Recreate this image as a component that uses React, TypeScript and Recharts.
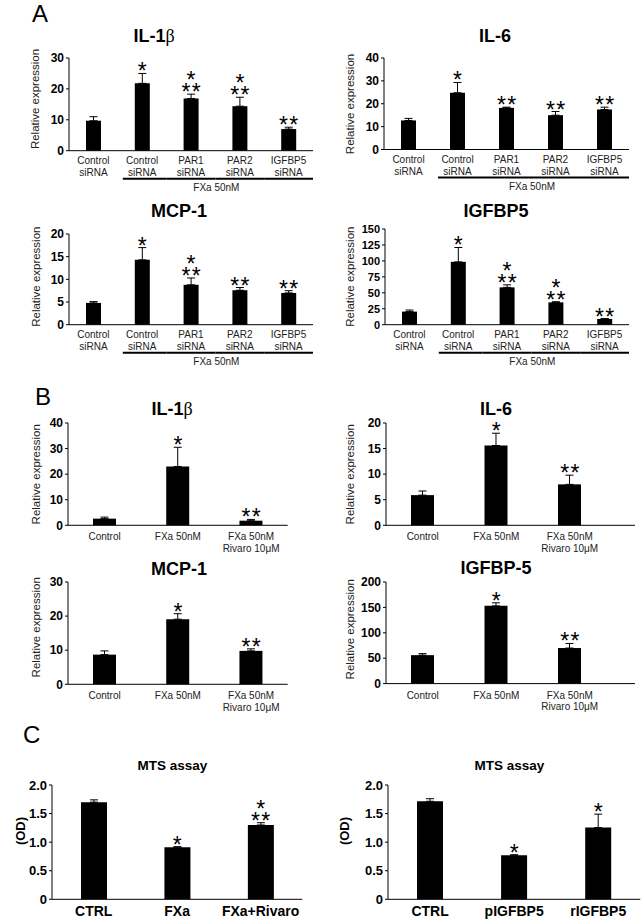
import React from "react";
import { ComposedChart, Bar, Line, XAxis, YAxis, ErrorBar, LabelList } from "recharts";

// ---------- DATA ----------
const catsA = ["Control\nsiRNA", "Control\nsiRNA", "PAR1\nsiRNA", "PAR2\nsiRNA", "IGFBP5\nsiRNA"];
const fxaLabel = "FXa 50nM";

const il1bA = [9.7, 21.8, 16.9, 14.4, 7.0];
const il1bAErr = [1.3, 3.2, 1.4, 2.9, 0.6];
const il1bAStars = ["", "*", "*|**", "*|**", "**"];
const il1bATicks = [0, 10, 20, 30];

const il6A = [12.7, 24.8, 18.2, 15.0, 17.5];
const il6AErr = [0.9, 4.5, 0.3, 1.6, 1.0];
const il6AStars = ["", "*", "**", "**", "**"];
const il6ATicks = [0, 10, 20, 30, 40];

const mcp1A = [4.8, 14.3, 8.8, 7.6, 7.0];
const mcp1AErr = [0.3, 2.7, 1.5, 0.6, 0.5];
const mcp1AStars = ["", "*", "*|**", "**", "**"];
const mcp1ATicks = [0, 5, 10, 15, 20];

const igfbp5A = [20.5, 98.5, 58.5, 35, 9];
const igfbp5AErr = [2.5, 22.5, 4, 1, 0.5];
const igfbp5AStars = ["", "*", "*|**", "*|**", "**"];
const igfbp5ATicks = [0, 25, 50, 75, 100, 125, 150];

const catsB = ["Control", "FXa 50nM", "FXa 50nM\nRivaro 10\u03bcM"];

const il1bB = [2.6, 23, 1.8];
const il1bBErr = [0.6, 7.5, 0.5];
const il1bBTicks = [0, 10, 20, 30, 40];

const il6B = [5.9, 15.6, 8.0];
const il6BErr = [0.8, 2.4, 1.8];
const il6BTicks = [0, 5, 10, 15, 20];

const mcp1B = [8.7, 19.1, 9.8];
const mcp1BErr = [1.1, 1.6, 0.6];
const mcp1BTicks = [0, 10, 20, 30];

const igfbp5B = [56, 153, 70];
const igfbp5BErr = [3, 6, 9];
const igfbp5BTicks = [0, 50, 100, 150, 200];

const starsB = ["", "*", "**"];

const catsC1 = ["CTRL", "FXa", "FXa+Rivaro"];
const mtsC1 = [1.7, 0.91, 1.3];
const mtsC1Err = [0.04, 0.01, 0.04];
const mtsC1Stars = ["", "*", "*|**"];

const catsC2 = ["CTRL", "pIGFBP5", "rIGFBP5"];
const mtsC2 = [1.715, 0.77, 1.255];
const mtsC2Err = [0.045, 0.01, 0.235];
const mtsC2Stars = ["", "*", "*"];

const mtsTicks = [0, 0.5, 1, 1.5, 2];

// ---------- LAYOUT ----------
const FONT = "'Liberation Sans', Arial, Helvetica, sans-serif";
const MT = 40;
const MB = 60;
const YW = 50;
const MR = 4;

type Spec = {
  axisX: number;
  plotTop: number;
  plotBottom: number;
  plotRight: number;
  padRight?: number;
  yMax: number;
  ticks: number[];
  tickFontSize: number;
  fmt?: (v: number) => string;
  cats: string[];
  values: number[];
  errors: number[];
  stars: string[];
  barSize: number;
  kind: "A" | "B" | "C";
  yLabel: string;
  yLabelX: number;
  yLabelY: number;
  yLabelSize: number;
  yLabelBold?: boolean;
};

const renderStars = (props: any) => {
  const { x, y, value } = props;
  if (!value) return null;
  const rows = String(value).split("|");
  const n = rows.length;
  const baseY = y + 6 - (n - 1) * 12;
  return (
    <text
      x={x + 0.8}
      y={baseY}
      textAnchor="middle"
      fontSize={23}
      letterSpacing={1.4}
      fill="#000"
      fontFamily={FONT}
    >
      {rows.map((r, i) => (
        <tspan key={i} x={x + 0.8} dy={i === 0 ? 0 : 12}>
          {r}
        </tspan>
      ))}
    </text>
  );
};

function makeTick(kind: "A" | "B" | "C", band: number) {
  return (props: any) => {
    const { x, y, payload, index } = props;
    const lines = String(payload.value).split("\n");
    if (kind === "C") {
      return (
        <text x={x} y={y + 16.5} textAnchor="middle" fontSize={14} fontWeight="bold" fill="#000" fontFamily={FONT}>
          {lines[0]}
        </text>
      );
    }
    if (kind === "B") {
      return (
        <g>
          {lines.map((l, i) => (
            <text key={i} x={x} y={y + 15 + i * 11.5} textAnchor="middle" fontSize={10} fill="#222" fontFamily={FONT}>
              {l}
            </text>
          ))}
        </g>
      );
    }
    return (
      <g>
        {lines.map((l, i) => (
          <text key={i} x={x} y={y + 13 + i * 12} textAnchor="middle" fontSize={10} fill="#222" fontFamily={FONT}>
            {l}
          </text>
        ))}
        {index >= 1 && (
          <line
            x1={index === 1 ? x - band / 2 + 5 : x - band / 2}
            x2={x + band / 2}
            y1={y + 28}
            y2={y + 28}
            stroke="#000"
            strokeWidth={2}
          />
        )}
        {index === 2 && (
          <text x={x + band / 2 + 1} y={y + 40} textAnchor="middle" fontSize={10} fill="#222" fontFamily={FONT}>
            {fxaLabel}
          </text>
        )}
      </g>
    );
  };
}

function Panel({ s }: { s: Spec }) {
  const plotH = s.plotBottom - s.plotTop;
  const plotW = s.plotRight - s.axisX;
  const width = YW + plotW + MR;
  const height = MT + plotH + MB;
  const left = s.axisX - YW;
  const top = s.plotTop - MT;
  const band = (plotW - (s.padRight || 0)) / s.cats.length;
  const data = s.cats.map((c, i) => ({
    cat: c,
    v: s.values[i],
    err: [0, s.errors[i]],
    top: s.values[i] + s.errors[i],
    stars: s.stars[i],
  }));
  const lx = s.yLabelX - left;
  const ly = s.yLabelY - top;
  return (
    <div style={{ position: "absolute", left, top, width, height, fontFamily: FONT }}>
      <ComposedChart width={width} height={height} data={data} margin={{ top: MT, right: MR, bottom: 0, left: 0 }}>
        <XAxis
          dataKey="cat"
          height={MB}
          axisLine={{ stroke: "#000", strokeWidth: 1 }}
          tickLine={false}
          tickSize={0}
          tickMargin={0}
          interval={0}
          padding={{ left: 0, right: s.padRight || 0 }}
          tick={makeTick(s.kind, band)}
        />
        <YAxis
          width={YW}
          domain={[0, s.yMax]}
          ticks={s.ticks}
          interval={0}
          tickSize={3}
          tickMargin={2}
          axisLine={{ stroke: "#000", strokeWidth: 1 }}
          tickLine={{ stroke: "#000", strokeWidth: 1 }}
          tickFormatter={s.fmt}
          tick={{ fontSize: s.tickFontSize, fontWeight: "bold", fill: "#000", fontFamily: FONT }}
          label={{
            content: () => (
              <text
                x={lx}
                y={ly}
                transform={`rotate(-90 ${lx} ${ly})`}
                textAnchor="middle"
                dominantBaseline="central"
                fontSize={s.yLabelSize}
                fontWeight={s.yLabelBold ? "bold" : "normal"}
                fill={s.yLabelBold ? "#000" : "#222"}
                fontFamily={FONT}
              >
                {s.yLabel}
              </text>
            ),
          }}
        />
        <Bar dataKey="v" fill="#000" barSize={s.barSize} isAnimationActive={false}>
          <ErrorBar dataKey="err" width={4} stroke="#000" strokeWidth={1} direction="y" />
        </Bar>
        <Line dataKey="top" stroke="none" dot={false} activeDot={false} isAnimationActive={false} legendType="none">
          <LabelList dataKey="stars" content={renderStars} />
        </Line>
      </ComposedChart>
    </div>
  );
}

const REL = "Relative expression";
const fmtC = (v: number) => (v === 0 ? "0" : v.toFixed(1));

const specs: Spec[] = [
  { axisX: 69, plotTop: 58, plotBottom: 150.7, plotRight: 313, yMax: 30, ticks: il1bATicks, tickFontSize: 12, cats: catsA, values: il1bA, errors: il1bAErr, stars: il1bAStars, barSize: 15, kind: "A", yLabel: REL, yLabelX: 35, yLabelY: 99, yLabelSize: 11.5 },
  { axisX: 384, plotTop: 58, plotBottom: 149.5, plotRight: 629, yMax: 40, ticks: il6ATicks, tickFontSize: 12, cats: catsA, values: il6A, errors: il6AErr, stars: il6AStars, barSize: 15, kind: "A", yLabel: REL, yLabelX: 350, yLabelY: 104, yLabelSize: 11.5 },
  { axisX: 69, plotTop: 234.3, plotBottom: 325, plotRight: 313, yMax: 20, ticks: mcp1ATicks, tickFontSize: 12, cats: catsA, values: mcp1A, errors: mcp1AErr, stars: mcp1AStars, barSize: 15, kind: "A", yLabel: REL, yLabelX: 36, yLabelY: 277, yLabelSize: 11.5 },
  { axisX: 385, plotTop: 229.3, plotBottom: 325, plotRight: 629, yMax: 150, ticks: igfbp5ATicks, tickFontSize: 11, cats: catsA, values: igfbp5A, errors: igfbp5AErr, stars: igfbp5AStars, barSize: 15, kind: "A", yLabel: REL, yLabelX: 350, yLabelY: 277, yLabelSize: 11.5 },
  { axisX: 68.3, plotTop: 422.7, plotBottom: 525, plotRight: 288, yMax: 40, ticks: il1bBTicks, tickFontSize: 12, cats: catsB, values: il1bB, errors: il1bBErr, stars: starsB, barSize: 23, kind: "B", yLabel: REL, yLabelX: 36, yLabelY: 474, yLabelSize: 11.5 },
  { axisX: 386, plotTop: 422.7, plotBottom: 525, plotRight: 635, padRight: 28.5, yMax: 20, ticks: il6BTicks, tickFontSize: 12, cats: catsB, values: il6B, errors: il6BErr, stars: starsB, barSize: 23, kind: "B", yLabel: REL, yLabelX: 350, yLabelY: 474, yLabelSize: 11.5 },
  { axisX: 68.3, plotTop: 581.7, plotBottom: 684, plotRight: 288, yMax: 30, ticks: mcp1BTicks, tickFontSize: 12, cats: catsB, values: mcp1B, errors: mcp1BErr, stars: starsB, barSize: 23, kind: "B", yLabel: REL, yLabelX: 36, yLabelY: 627, yLabelSize: 11.5 },
  { axisX: 386, plotTop: 581.7, plotBottom: 683.3, plotRight: 635, padRight: 28.5, yMax: 200, ticks: igfbp5BTicks, tickFontSize: 12, cats: catsB, values: igfbp5B, errors: igfbp5BErr, stars: starsB, barSize: 23, kind: "B", yLabel: REL, yLabelX: 350, yLabelY: 629, yLabelSize: 11.5 },
  { axisX: 51.7, plotTop: 785, plotBottom: 899.3, plotRight: 302, yMax: 2, ticks: mtsTicks, tickFontSize: 13, fmt: fmtC, cats: catsC1, values: mtsC1, errors: mtsC1Err, stars: mtsC1Stars, barSize: 26, kind: "C", yLabel: "(OD)", yLabelX: 20, yLabelY: 831, yLabelSize: 13, yLabelBold: true },
  { axisX: 387.7, plotTop: 785, plotBottom: 899.3, plotRight: 640, yMax: 2, ticks: mtsTicks, tickFontSize: 13, fmt: fmtC, cats: catsC2, values: mtsC2, errors: mtsC2Err, stars: mtsC2Stars, barSize: 26, kind: "C", yLabel: "(OD)", yLabelX: 344, yLabelY: 831, yLabelSize: 13, yLabelBold: true },
];

type Title = { x: number; y: number; text: string; beta?: boolean; size: number };
const titles: Title[] = [
  { x: 154, y: 42, text: "IL-1", beta: true, size: 18 },
  { x: 495, y: 42, text: "IL-6", size: 18 },
  { x: 179, y: 217, text: "MCP-1", size: 18 },
  { x: 496, y: 217, text: "IGFBP5", size: 18 },
  { x: 172, y: 415, text: "IL-1", beta: true, size: 18 },
  { x: 496, y: 415, text: "IL-6", size: 18 },
  { x: 179, y: 575, text: "MCP-1", size: 18 },
  { x: 496, y: 574, text: "IGFBP-5", size: 18 },
  { x: 172.5, y: 770, text: "MTS assay", size: 13.5 },
  { x: 509.5, y: 770, text: "MTS assay", size: 13.5 },
];

const letters = [
  { x: 32, y: 22, t: "A" },
  { x: 35, y: 405, t: "B" },
  { x: 23, y: 743, t: "C" },
];

export default function App() {
  return (
    <div style={{ position: "absolute", left: 0, top: 0, width: 644, height: 919, background: "#fff", overflow: "hidden" }}>
      {specs.map((s, i) => (
        <Panel key={i} s={s} />
      ))}
      <svg width={644} height={919} style={{ position: "absolute", left: 0, top: 0, pointerEvents: "none" }}>
        {letters.map((l, i) => (
          <text key={i} x={l.x} y={l.y} fontSize={24} fontFamily={FONT} fill="#000">
            {l.t}
          </text>
        ))}
        {titles.map((t, i) => (
          <text key={i} x={t.x} y={t.y} textAnchor="middle" fontSize={t.size} fontWeight="bold" fontFamily={FONT} fill="#000">
            {t.text}
            {t.beta && (
              <tspan fontWeight="normal" fontFamily="'Liberation Serif', 'DejaVu Serif', serif">
                {"\u03b2"}
              </tspan>
            )}
          </text>
        ))}
      </svg>
    </div>
  );
}
